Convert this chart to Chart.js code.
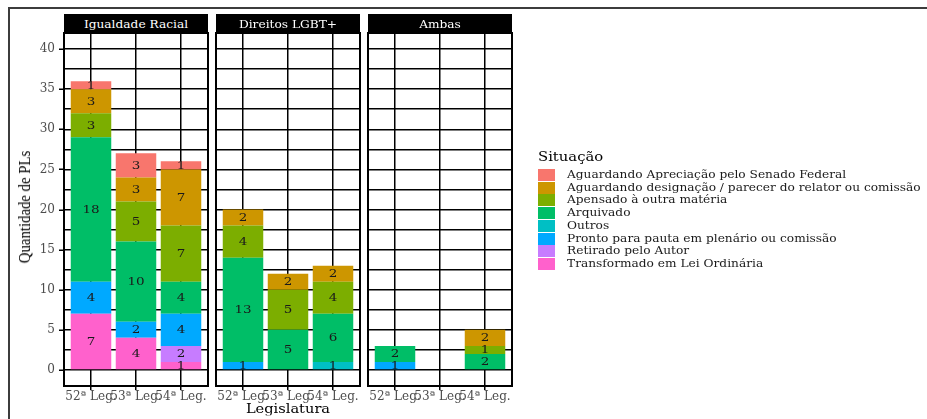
<!DOCTYPE html>
<html>
<head>
<meta charset="utf-8">
<script src="https://cdn.jsdelivr.net/npm/chart.js@4/dist/chart.umd.min.js"></script>
<style>
  html, body { margin: 0; padding: 0; background: #fff; overflow: hidden; width: 927px; height: 419px; }
  #wrap { position: relative; width: 927px; height: 419px; overflow: hidden; }
  canvas { position: absolute; left: 0; top: 0; }
  .frame { position: absolute; left: 8px; top: 7px; width: 1200px; height: 1200px; border: 2px solid #3c3c3c; box-sizing: border-box; }
  .strip { position: absolute; top: 14px; height: 19px; background: #000; color: #fff; text-align: center; line-height: 19px; white-space: nowrap; }
  .strip span { display: inline-block; font: 12.2px "DejaVu Serif"; transform: scaleY(0.87); }
  .ytitle { position: absolute; left: 25px; top: 207px; transform: translate(-50%, -50%) rotate(-90deg) scaleX(0.87); font: 17px "Liberation Serif"; color: #000; white-space: nowrap; }
  .xtitle { position: absolute; left: 288px; top: 408px; transform: translate(-50%, -50%) scaleY(0.87); font: 14.6px "DejaVu Serif"; color: #000; white-space: nowrap; }
  .leg-title { position: absolute; left: 538px; top: 156px; transform: translateY(-50%) scaleY(0.87); transform-origin: left center; font: 14.8px "DejaVu Serif"; color: #000; white-space: nowrap; }
  .leg-key { position: absolute; left: 538px; width: 17px; height: 12px; }
  .leg-text { position: absolute; left: 567px; transform: translateY(-50%) scaleY(0.87); transform-origin: left center; font: 12.2px "DejaVu Serif"; color: #1a1a1a; white-space: nowrap; }
</style>
</head>
<body>
<div id="wrap">
  <div class="frame"></div>
  <canvas id="p0" width="927" height="419"></canvas>
  <canvas id="p1" width="927" height="419"></canvas>
  <canvas id="p2" width="927" height="419"></canvas>
  <div class="ytitle">Quantidade de PLs</div>
  <div class="xtitle">Legislatura</div>
  <div class="leg-title">Situação</div>
</div>
<script>
// Legislaturas (eixo x de cada painel)
const legislaturas = ['52ª Leg.', '53ª Leg.', '54ª Leg.'];

// Temas (um painel para cada)
const paineis = ['Igualdade Racial', 'Direitos LGBT+', 'Ambas'];

// Situação das proposições, na ordem da legenda
const situacoes = [
  'Aguardando Apreciação pelo Senado Federal',
  'Aguardando designação / parecer do relator ou comissão',
  'Apensado à outra matéria',
  'Arquivado',
  'Outros',
  'Pronto para pauta em plenário ou comissão',
  'Retirado pelo Autor',
  'Transformado em Lei Ordinária'
];
const cores = ['#F8766D', '#CD9600', '#7CAE00', '#00BE67', '#00BFC4', '#00A9FF', '#C77CFF', '#FF61CC'];

// Quantidade de PLs: uma linha por situação, uma coluna por legislatura
const igualdadeRacial = [
  [1, 3, 1],
  [3, 3, 7],
  [3, 5, 7],
  [18, 10, 4],
  [0, 0, 0],
  [4, 2, 4],
  [0, 0, 2],
  [7, 4, 1]
];
const direitosLGBT = [
  [0, 0, 0],
  [2, 2, 2],
  [4, 5, 4],
  [13, 5, 6],
  [0, 0, 1],
  [1, 0, 0],
  [0, 0, 0],
  [0, 0, 0]
];
const ambas = [
  [0, 0, 0],
  [0, 0, 2],
  [0, 0, 1],
  [2, 0, 2],
  [0, 0, 0],
  [1, 0, 0],
  [0, 0, 0],
  [0, 0, 0]
];
const valoresPorPainel = [igualdadeRacial, direitosLGBT, ambas];

// Marcas do eixo y (linhas principais a cada 5, secundárias a cada 2,5)
const yTicks = [0, 2.5, 5, 7.5, 10, 12.5, 15, 17.5, 20, 22.5, 25, 27.5, 30, 32.5, 35, 37.5, 40];
const yMajor = [0, 5, 10, 15, 20, 25, 30, 35, 40];

// Geometria dos painéis
const painelLeft = [64, 216, 368];
const painelWidth = 144;
const painelTop = 33;
const painelBottom = 386;
const W = 927, H = 419;

// Valor escrito no meio de cada segmento
const rotulos = {
  id: 'rotulos',
  afterDatasetsDraw(chart) {
    const ctx = chart.ctx;
    ctx.save();
    ctx.font = '13.5px "DejaVu Serif"';
    ctx.fillStyle = '#1a1a1a';
    ctx.textAlign = 'center';
    ctx.textBaseline = 'middle';
    chart.data.datasets.forEach((ds, i) => {
      const meta = chart.getDatasetMeta(i);
      meta.data.forEach((bar, j) => {
        const v = ds.data[j].y;
        if (!v) return;
        const cy = (bar.y + bar.base) / 2 + 0.5;
        ctx.save();
        ctx.translate(bar.x, cy);
        ctx.scale(1, 0.87);
        ctx.fillText(String(v), 0, 0);
        ctx.restore();
      });
    });
    ctx.restore();
  }
};

// Moldura do painel e marcas principais do eixo y
const borda = {
  id: 'borda',
  afterDraw(chart, args, opts) {
    const a = chart.chartArea;
    const ctx = chart.ctx;
    ctx.save();
    ctx.strokeStyle = '#000';
    if (opts.marcasY) {
      ctx.lineWidth = 1.5;
      const ys = chart.scales.y;
      yMajor.forEach(v => {
        const py = Math.round(ys.getPixelForValue(v)) + 0.25;
        ctx.beginPath();
        ctx.moveTo(a.left - 5, py);
        ctx.lineTo(a.left, py);
        ctx.stroke();
      });
    }
    ctx.lineWidth = 2;
    ctx.strokeRect(a.left, a.top, a.right - a.left, a.bottom - a.top);
    ctx.restore();
  }
};

const wrap = document.getElementById('wrap');

paineis.forEach((nome, p) => {
  const valores = valoresPorPainel[p];
  const L = painelLeft[p];

  // faixa com o nome do painel
  const strip = document.createElement('div');
  strip.className = 'strip';
  strip.style.left = L + 'px';
  strip.style.width = painelWidth + 'px';
  const sp = document.createElement('span');
  sp.textContent = nome;
  strip.appendChild(sp);
  wrap.appendChild(strip);

  // empilhamento: a última situação fica na base
  const datasets = [];
  for (let i = situacoes.length - 1; i >= 0; i--) {
    datasets.push({
      label: situacoes[i],
      backgroundColor: cores[i],
      borderWidth: 0,
      barPercentage: 0.9,
      categoryPercentage: 1,
      data: valores[i].map((v, j) => ({ x: j, y: v }))
    });
  }

  new Chart(document.getElementById('p' + p), {
    type: 'bar',
    data: { datasets },
    options: {
      responsive: false,
      animation: false,
      devicePixelRatio: 1,
      layout: { padding: { left: 0, right: W - L - painelWidth, top: painelTop, bottom: 0 } },
      plugins: {
        legend: { display: false },
        tooltip: { enabled: false },
        title: { display: false },
        borda: { marcasY: p === 0 }
      },
      scales: {
        x: {
          type: 'linear',
          stacked: true,
          min: -0.6,
          max: 2.6,
          offset: false,
          afterBuildTicks: s => { s.ticks = legislaturas.map((_, j) => ({ value: j })); },
          afterFit: s => { s.height = H - painelBottom; },
          border: { display: false },
          grid: { color: '#000', lineWidth: 1.5, offset: false, tickLength: 4, tickColor: '#000', tickWidth: 1.5 },
          ticks: {
            autoSkip: false,
            maxRotation: 0,
            minRotation: 0,
            padding: 0,
            color: '#4D4D4D',
            font: { family: 'DejaVu Serif', size: 12 },
            callback: v => legislaturas[v]
          }
        },
        y: {
          type: 'linear',
          stacked: true,
          min: -2,
          max: 42,
          afterBuildTicks: s => { s.ticks = yTicks.map(v => ({ value: v })); },
          afterFit: s => { s.width = L; },
          border: { display: false },
          grid: { color: '#000', lineWidth: 1.5, drawTicks: false },
          ticks: {
            display: p === 0,
            padding: 9,
            color: '#4D4D4D',
            font: { family: 'DejaVu Serif', size: 12 },
            callback: v => (v % 5 === 0 ? String(v) : '')
          }
        }
      }
    },
    plugins: [rotulos, borda]
  });
});

// Legenda
situacoes.forEach((s, i) => {
  const cy = 175 + i * 12.7;
  const key = document.createElement('div');
  key.className = 'leg-key';
  key.style.top = (cy - 6) + 'px';
  key.style.background = cores[i];
  wrap.appendChild(key);
  const t = document.createElement('div');
  t.className = 'leg-text';
  t.style.top = cy + 'px';
  t.textContent = s;
  wrap.appendChild(t);
});
</script>
</body>
</html>
